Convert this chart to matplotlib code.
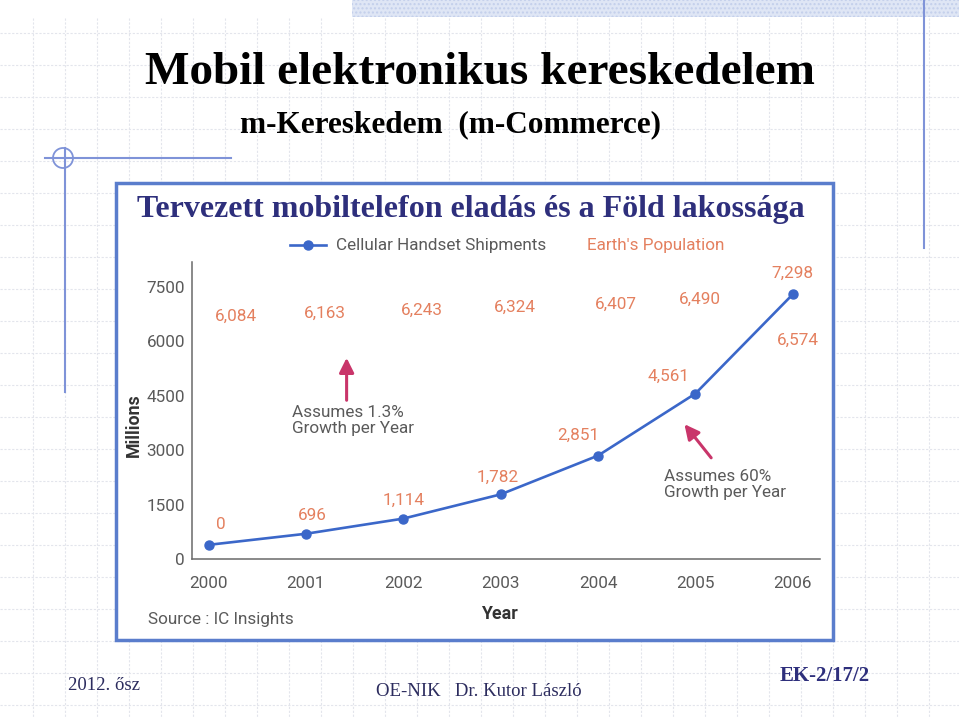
import matplotlib.pyplot as plt
from matplotlib.patches import Rectangle, Circle

# data (millions)
years = [2000, 2001, 2002, 2003, 2004, 2005, 2006]
shipments = [390, 696, 1114, 1782, 2851, 4561, 7298]
shipment_labels = ['0', '696', '1,114', '1,782', '2,851', '4,561', '7,298']
population = [6084, 6163, 6243, 6324, 6407, 6490, 6574]
population_labels = ['6,084', '6,163', '6,243', '6,324', '6,407', '6,490', '6,574']
yticks = [0, 1500, 3000, 4500, 6000, 7500]

# label offsets in pixels
ship_off = [(12, 20), (6, 18), (0, 18), (-3, 17), (-20, 20), (-27, 17), (0, 21)]
pop_off = [(27, 22), (19, 22), (19, 22), (14, 22), (18, 22), (5, 24), (5, -20)]

BLUE = '#3b67c9'
ORANGE = '#e4805f'
GRAY = '#5a5a5a'
CRIMSON = '#c9356a'
NAVY = '#2e2f7c'
NARROW = ['Roboto', 'DejaVu Sans']
SERIF = ['Liberation Serif', 'DejaVu Serif']
FS = 12.3

W, H = 959, 718
fig = plt.figure(figsize=(W / 100, H / 100), dpi=100)

# slide background in pixel coordinates
bg = fig.add_axes([0, 0, 1, 1])
bg.set_xlim(0, W)
bg.set_ylim(H, 0)
bg.axis('off')
for x in range(33, W, 32):
    bg.plot([x, x], [18, H], color='#e3e5ec', lw=0.8, ls=(0, (2, 1.5)), zorder=0)
for y in range(33, H, 32):
    bg.plot([0, W], [y, y], color='#e3e5ec', lw=0.8, ls=(0, (2, 1.5)), zorder=0)
bg.add_patch(Rectangle((352, 0), W - 352, 17, facecolor='#dfe6f5', edgecolor='#c3cfeb',
                       hatch='....', lw=0, zorder=1))
bg.plot([924, 924], [0, 248], color='#7f93d8', lw=1.5, zorder=2)
bg.plot([45, 231], [158, 158], color='#7f93d8', lw=1.5, zorder=2)
bg.plot([65, 65], [148, 392], color='#7f93d8', lw=1.5, zorder=2)
bg.add_patch(Circle((63, 158), 10, fill=False, edgecolor='#7f93d8', lw=1.3, zorder=2))

bg.text(480, 73, 'Mobil elektronikus kereskedelem', family=SERIF, weight='bold',
        fontsize=34, ha='center', va='center', color='black')
bg.text(450, 125, 'm-Kereskedem  (m-Commerce)', family=SERIF, weight='bold',
        fontsize=22.5, ha='center', va='center', color='black')

# chart frame
bg.add_patch(Rectangle((116, 183), 717, 457, facecolor='white', edgecolor='#5a7dcc',
                       lw=2.5, zorder=3))
bg.text(471, 210, 'Tervezett mobiltelefon eladás és a Föld lakossága', family=SERIF,
        weight='bold', fontsize=23, ha='center', va='center', color=NAVY, zorder=4)

# footer
bg.text(68, 685, '2012. ősz', family=SERIF, fontsize=13.5, ha='left', va='center',
        color='#2c2c5e')
bg.text(479, 692, 'OE-NIK   Dr. Kutor László', family=SERIF, fontsize=13.5,
        ha='center', va='center', color='#2c2c5e')
bg.text(825, 676, 'EK-2/17/2', family=SERIF, weight='bold', fontsize=15,
        ha='center', va='center', color=NAVY)

# chart axes
ax = fig.add_axes([192 / W, 1 - 559 / H, 628 / W, 297 / H])
ax.patch.set_alpha(0)
ax.set_xlim(1999.83, 2006.28)
ax.set_ylim(0, 8190)
for s in ['top', 'right']:
    ax.spines[s].set_visible(False)
for s in ['left', 'bottom']:
    ax.spines[s].set_color('#6a6a6a')
    ax.spines[s].set_linewidth(1.1)
ax.set_xticks(years)
ax.set_yticks(yticks)
ax.tick_params(length=0, labelsize=FS, labelcolor=GRAY)
ax.tick_params(axis='x', pad=12)
ax.tick_params(axis='y', pad=5)
for lab in ax.get_xticklabels() + ax.get_yticklabels():
    lab.set_family(NARROW)

line, = ax.plot(years, shipments, color=BLUE, lw=1.9, marker='o', ms=6.5,
                clip_on=False, zorder=5)

for x, y, t, (dx, dy) in zip(years, shipments, shipment_labels, ship_off):
    ax.annotate(t, (x, y), xytext=(dx, dy), textcoords='offset pixels', ha='center',
                va='center', color=ORANGE, fontsize=FS, family=NARROW)
for x, y, t, (dx, dy) in zip(years, population, population_labels, pop_off):
    ax.annotate(t, (x, y), xytext=(dx, dy), textcoords='offset pixels', ha='center',
                va='center', color=ORANGE, fontsize=FS, family=NARROW)

# growth notes
ax.annotate('', xy=(2001.418, 5624), xytext=(2001.418, 4301),
            arrowprops=dict(arrowstyle='-|>', color=CRIMSON, lw=2.2, mutation_scale=22))
ax.text(2000.853, 4260, 'Assumes 1.3%\nGrowth per Year', ha='left', va='top',
        color=GRAY, fontsize=FS, family=NARROW, linespacing=1.1)
ax.annotate('', xy=(2004.87, 3777), xytext=(2005.18, 2730),
            arrowprops=dict(arrowstyle='-|>', color=CRIMSON, lw=2.2, mutation_scale=22))
ax.text(2004.676, 2480, 'Assumes 60%\nGrowth per Year', ha='left', va='top',
        color=GRAY, fontsize=FS, family=NARROW, linespacing=1.1)

ax.set_ylabel('Millions', family=NARROW, weight='bold', fontsize=FS + 0.5, color='#333333')
ax.yaxis.set_label_coords(-0.078, 0.45)
ax.set_xlabel('Year', family=NARROW, weight='bold', fontsize=FS + 0.5, color='#333333')
ax.xaxis.set_label_coords(0.49, -0.155)
ax.text(-0.070, -0.205, 'Source : IC Insights', transform=ax.transAxes, ha='left',
        va='center', color=GRAY, fontsize=FS, family=NARROW)

# legend: line entry plus a text-only population entry
pop_handle, = ax.plot([], [], color='none')
leg = ax.legend([line, pop_handle], ['Cellular Handset Shipments', "Earth's Population"],
                loc='center left', bbox_to_anchor=(290 / W, 1 - 246 / H),
                bbox_transform=fig.transFigure, ncol=2, frameon=False,
                prop={'family': NARROW, 'size': FS}, handlelength=2.1,
                handletextpad=0.6, columnspacing=-0.35, borderpad=0, borderaxespad=0)
leg.get_texts()[0].set_color(GRAY)
leg.get_texts()[1].set_color(ORANGE)

fig.savefig('out.png', dpi=100, facecolor='white')
